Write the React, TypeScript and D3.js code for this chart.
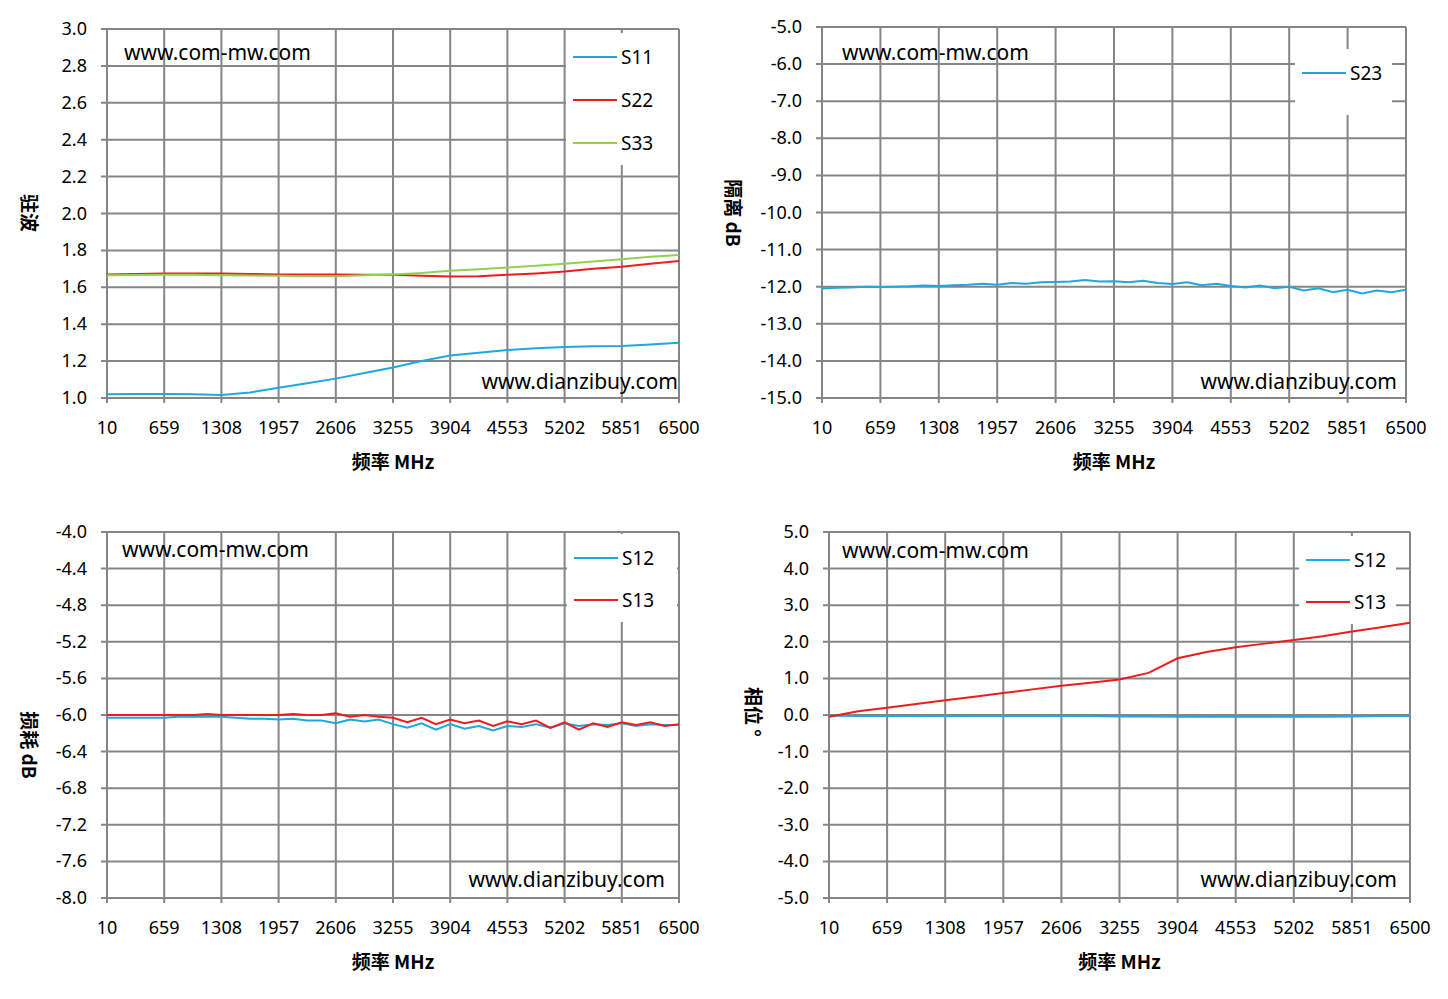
import * as d3 from "d3";

const xTicks = [10, 659, 1308, 1957, 2606, 3255, 3904, 4553, 5202, 5851, 6500];
const step21 = d3.range(21).map((i) => 10 + i * 324.5);
const step41 = d3.range(41).map((i) => 10 + i * 162.25);

// panel 1: VSWR
const s11 = [1.02, 1.022, 1.022, 1.02, 1.016, 1.03, 1.055, 1.08, 1.105, 1.135, 1.165, 1.2, 1.23, 1.245, 1.26, 1.27, 1.277, 1.28, 1.282, 1.29, 1.3];
const s22 = [1.67, 1.672, 1.675, 1.675, 1.675, 1.672, 1.67, 1.67, 1.67, 1.668, 1.668, 1.662, 1.658, 1.66, 1.668, 1.675, 1.685, 1.7, 1.712, 1.728, 1.742];
const s33 = [1.665, 1.667, 1.668, 1.668, 1.665, 1.664, 1.662, 1.66, 1.66, 1.665, 1.67, 1.678, 1.69, 1.698, 1.707, 1.717, 1.727, 1.74, 1.752, 1.765, 1.775];

// panel 2: isolation
const s23 = [-12.05, -12.03, -12.02, -12.0, -12.01, -12.0, -11.99, -11.97, -11.98, -11.96, -11.95, -11.92, -11.95, -11.9, -11.92, -11.88, -11.87, -11.86, -11.82, -11.86, -11.85, -11.88, -11.84, -11.9, -11.93, -11.88, -11.96, -11.92, -11.98, -12.02, -11.97, -12.04, -12.0, -12.1, -12.04, -12.15, -12.08, -12.18, -12.1, -12.15, -12.08];

// panel 3: insertion loss
const il12 = [-6.03, -6.03, -6.03, -6.03, -6.03, -6.02, -6.02, -6.02, -6.02, -6.03, -6.04, -6.04, -6.05, -6.04, -6.06, -6.06, -6.09, -6.05, -6.07, -6.05, -6.1, -6.14, -6.09, -6.16, -6.1, -6.15, -6.12, -6.17, -6.12, -6.13, -6.1, -6.14, -6.09, -6.12, -6.1, -6.11, -6.09, -6.12, -6.1, -6.11, -6.11];
const il13 = [-6.0, -6.0, -6.0, -6.0, -6.0, -6.0, -6.0, -5.99, -6.0, -6.0, -6.0, -6.0, -6.0, -5.99, -6.0, -6.0, -5.98, -6.02, -6.0, -6.02, -6.03, -6.08, -6.03, -6.1, -6.05, -6.09, -6.06, -6.12, -6.07, -6.1, -6.06, -6.14, -6.08, -6.16, -6.09, -6.13, -6.08, -6.11, -6.08, -6.12, -6.1];

// panel 4: phase
const ph12 = [-0.02, -0.03, -0.03, -0.03, -0.02, -0.03, -0.03, -0.03, -0.02, -0.03, -0.04, -0.04, -0.05, -0.04, -0.05, -0.05, -0.04, -0.05, -0.04, -0.03, -0.03];
const ph13 = [-0.05, 0.1, 0.2, 0.3, 0.4, 0.5, 0.6, 0.7, 0.8, 0.88, 0.97, 1.15, 1.55, 1.72, 1.85, 1.95, 2.05, 2.15, 2.28, 2.4, 2.52];

const FONT = "'Noto Sans', sans-serif";
const CJK = "'Noto Sans CJK SC', sans-serif";

type Series = { name: string; xs: number[]; ys: number[]; color: string };

function Panel(p: {
  x0: number; x1: number; y0: number; y1: number;
  dom: [number, number]; yTicks: number[]; fmt: (v: number) => string;
  series: Series[]; yLabel: string; yLabelX: number; yLabelY: number;
  legend: { x: number; y: number; w: number; h: number; gap: number };
  wmTop: [number, number]; wmBot: [number, number];
}) {
  const x = d3.scaleLinear().domain([10, 6500]).range([p.x0, p.x1]);
  const y = d3.scaleLinear().domain(p.dom).range([p.y1, p.y0]);
  const line = d3.line<[number, number]>().x((d) => x(d[0])).y((d) => y(d[1]));
  const grid = "#868686";
  return (
    <g fontFamily={FONT}>
      {xTicks.map((t) => (
        <g key={"x" + t}>
          <line x1={x(t)} x2={x(t)} y1={p.y0} y2={p.y1 + 5} stroke={grid} strokeWidth={2} />
          <text x={x(t)} y={p.y1 + 36} textAnchor="middle" fontSize={18}>{t}</text>
        </g>
      ))}
      {p.yTicks.map((t) => (
        <g key={"y" + t}>
          <line x1={p.x0 - 6} x2={p.x1} y1={y(t)} y2={y(t)} stroke={grid} strokeWidth={2} />
          <text x={p.x0 - 20} y={y(t) + 6} textAnchor="end" fontSize={18}>{p.fmt(t)}</text>
        </g>
      ))}
      <rect x={p.legend.x} y={p.legend.y} width={p.legend.w} height={p.legend.h} fill="white" />
      {p.series.map((s) => (
        <path key={s.name} d={line(s.xs.map((v, i) => [v, s.ys[i]]))!} fill="none" stroke={s.color} strokeWidth={2} />
      ))}
      {p.series.map((s, i) => {
        const ly = p.legend.y + 24 + i * p.legend.gap;
        return (
          <g key={"l" + s.name}>
            <line x1={p.legend.x + 7} x2={p.legend.x + 51} y1={ly} y2={ly} stroke={s.color} strokeWidth={2} />
            <text x={p.legend.x + 55} y={ly + 7} fontSize={19}>{s.name}</text>
          </g>
        );
      })}
      <text x={p.wmTop[0]} y={p.wmTop[1]} fontSize={21}>www.com-mw.com</text>
      <text x={p.wmBot[0]} y={p.wmBot[1]} fontSize={21} textAnchor="end">www.dianzibuy.com</text>
      <text x={(p.x0 + p.x1) / 2} y={p.y1 + 71} textAnchor="middle" fontSize={19} fontWeight="bold" fontFamily={CJK}>频率 MHz</text>
      <text transform={`translate(${p.yLabelX},${p.yLabelY}) rotate(90)`} textAnchor="middle" fontSize={19} fontWeight="bold" fontFamily={CJK}>{p.yLabel}</text>
    </g>
  );
}

export default function App() {
  const f1 = (v: number) => v.toFixed(1);
  return (
    <svg width={1448} height={999} style={{ position: "absolute", left: 0, top: 0, background: "white" }}>
      <Panel x0={107} x1={679} y0={29} y1={398} dom={[1, 3]} yTicks={d3.range(0, 11).map((i) => 1 + i * 0.2)} fmt={f1}
        series={[
          { name: "S11", xs: step21, ys: s11, color: "#1fa7e0" },
          { name: "S22", xs: step21, ys: s22, color: "#ee1c1c" },
          { name: "S33", xs: step21, ys: s33, color: "#92d050" },
        ]}
        yLabel="驻波" yLabelX={22} yLabelY={213}
        legend={{ x: 566, y: 33, w: 112, h: 132, gap: 43 }} wmTop={[124, 60]} wmBot={[678, 389]} />
      <Panel x0={822} x1={1406} y0={27} y1={398} dom={[-15, -5]} yTicks={d3.range(-15, -4)} fmt={f1}
        series={[{ name: "S23", xs: step41, ys: s23, color: "#1fa7e0" }]}
        yLabel="隔离 dB" yLabelX={726} yLabelY={213}
        legend={{ x: 1295, y: 49, w: 97, h: 66, gap: 42 }} wmTop={[842, 60]} wmBot={[1397, 389]} />
      <Panel x0={107} x1={679} y0={532} y1={898} dom={[-8, -4]} yTicks={d3.range(0, 11).map((i) => -8 + i * 0.4)} fmt={f1}
        series={[
          { name: "S12", xs: step41, ys: il12, color: "#1fa7e0" },
          { name: "S13", xs: step41, ys: il13, color: "#ee1c1c" },
        ]}
        yLabel="损耗 dB" yLabelX={22} yLabelY={745}
        legend={{ x: 567, y: 534, w: 110, h: 88, gap: 42 }} wmTop={[122, 557]} wmBot={[665, 887]} />
      <Panel x0={829} x1={1410} y0={532} y1={898} dom={[-5, 5]} yTicks={d3.range(-5, 6)} fmt={f1}
        series={[
          { name: "S12", xs: step21, ys: ph12, color: "#1fa7e0" },
          { name: "S13", xs: step21, ys: ph13, color: "#ee1c1c" },
        ]}
        yLabel="相位 °" yLabelX={746} yLabelY={712}
        legend={{ x: 1299, y: 536, w: 97, h: 88, gap: 42 }} wmTop={[842, 558]} wmBot={[1397, 887]} />
    </svg>
  );
}
